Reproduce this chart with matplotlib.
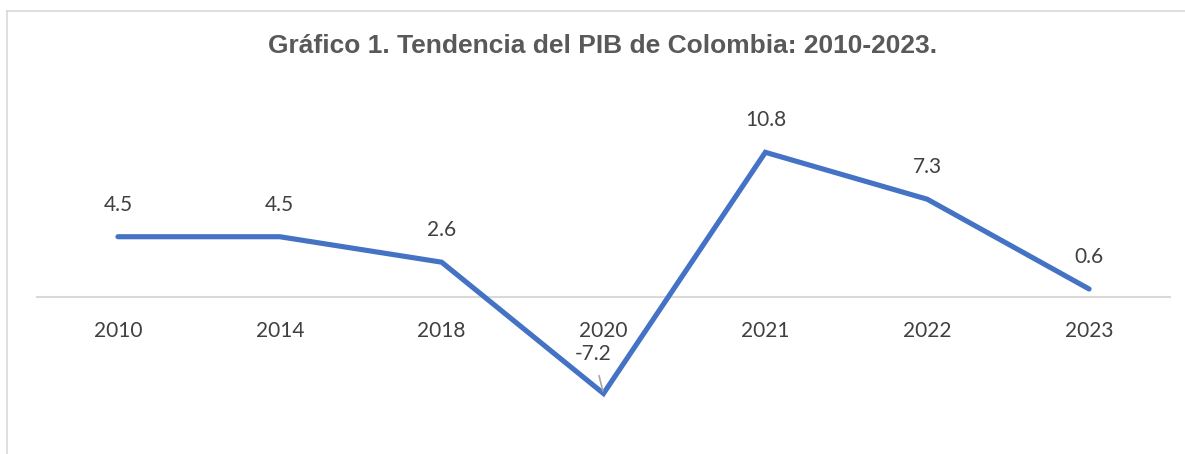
import matplotlib
matplotlib.use("Agg")
import matplotlib.pyplot as plt
from matplotlib.lines import Line2D

years = ["2010", "2014", "2018", "2020", "2021", "2022", "2023"]
pib = [4.5, 4.5, 2.6, -7.2, 10.8, 7.3, 0.6]

line_color = "#4472C4"
text_color = "#404040"
grey_line = "#D9D9D9"

fig = plt.figure(figsize=(11.85, 4.54), dpi=100)
fig.patch.set_facecolor("white")

# cropped chart frame: only top and left edge visible
fig.add_artist(Line2D([7 / 1185, 7 / 1185], [0, 1 - 11 / 454], color=grey_line, lw=1.2))
fig.add_artist(Line2D([7 / 1185, 1], [1 - 11 / 454, 1 - 11 / 454], color=grey_line, lw=1.2))

ax = fig.add_axes([37 / 1185, 14 / 454, 1133 / 1185, 350 / 454])
x = list(range(len(years)))
ax.plot(x, pib, color=line_color, lw=3.7, solid_capstyle="round",
        solid_joinstyle="miter", zorder=3)

for i, v in enumerate(pib):
    if v < 0:
        ax.annotate(f"{v:.1f}", (i, v), xytext=(-10, 40), textcoords="offset pixels",
                    ha="center", va="center", fontsize=15, family="Lato", color=text_color,
                    arrowprops=dict(arrowstyle="-", color="#A6A6A6", lw=1.2,
                                    shrinkA=7, shrinkB=2))
    else:
        ax.annotate(f"{v:.1f}", (i, v), xytext=(0, 32), textcoords="offset pixels",
                    ha="center", va="center", fontsize=15, family="Lato", color=text_color)

ax.set_xlim(-0.5, len(years) - 0.5)
ax.set_ylim(-10.67, 15.45)
ax.set_xticks(x)
ax.set_xticklabels(years)
ax.set_yticks([])
ax.tick_params(axis="x", length=0, pad=17, labelsize=15, labelcolor=text_color,
               labelfontfamily="Lato")
for s in ["top", "right", "left"]:
    ax.spines[s].set_visible(False)
ax.spines["bottom"].set_position(("data", 0))
ax.spines["bottom"].set_color(grey_line)
ax.spines["bottom"].set_linewidth(1.5)
ax.patch.set_alpha(0)

fig.text(603 / 1185, 1 - 46 / 454, "Gráfico 1. Tendencia del PIB de Colombia: 2010-2023.",
         ha="center", va="center", fontsize=19, fontweight="bold",
         family="Liberation Sans", color="#595959")

fig.savefig("out.png", dpi=100)
